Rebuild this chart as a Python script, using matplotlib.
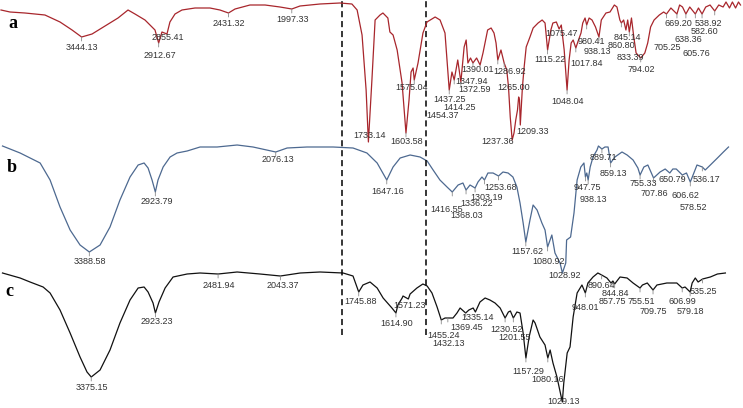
import numpy as np
import matplotlib
matplotlib.use('Agg')
import matplotlib.pyplot as plt

# ---- spectra (wavenumber cm-1, relative transmittance) ----
wn_a = [4000, 3938, 3835, 3697, 3593, 3510, 3444.13, 3372, 3283, 3193, 3124, 3076, 3007, 2959, 2938,
        2912.67, 2890, 2855.41, 2835, 2800, 2752, 2662, 2559, 2490, 2431.32, 2386, 2283, 2179, 2076,
        1997.33, 1969, 1900, 1831, 1790, 1772, 1755, 1741, 1733.14, 1721, 1710, 1693, 1683, 1666, 1659,
        1648, 1634, 1617, 1603.58, 1593, 1586, 1579, 1575.04, 1562, 1545, 1531, 1503, 1486, 1469,
        1454.37, 1445, 1437.25, 1425, 1414.25, 1403, 1396, 1390.01, 1381, 1372.59, 1360, 1347.94, 1338,
        1322, 1310, 1300, 1293, 1286.92, 1276, 1265.00, 1256, 1250, 1244, 1237.36, 1231, 1225, 1219,
        1215, 1212, 1209.33, 1202, 1196, 1189, 1176, 1165, 1148, 1134, 1124, 1115.22, 1104, 1097, 1085,
        1075.47, 1068, 1058, 1048.04, 1041, 1034, 1027, 1017.84, 1011, 1000, 994, 986, 980.41, 972, 962,
        950, 938.13, 930, 914, 900, 885, 876, 866, 860.80, 853, 845.14, 839, 833.39, 826, 818, 810,
        794.02, 780, 770, 760, 748, 730, 715, 705.25, 690, 669.20, 660, 650, 638.36, 625, 605.76, 595,
        582.60, 570, 555, 538.92, 525, 510, 500, 488, 478, 467, 457, 450]
t_a = [95, 93, 92, 90, 83, 75, 68, 71, 79, 87, 95, 91, 85, 78, 75,
       62, 73, 71, 83, 91, 95, 97, 97, 95, 92, 96, 100, 100, 98,
       96, 99, 101, 102, 101, 95, 70, 15, -37, 25, 85, 90, 92, 87, 73,
       70, 55, 22, -28, 5, 33, 37, 25, 42, 72, 83, 88, 85, 72,
       15, 33, 25, 45, 23, 58, 65, 42, 47, 42, 47, 40, 52,
       75, 77, 72, 62, 45, 55, 42, 35, 18, -12, -35, -28, -15, -5,
       8, 5, -20, 18, 38, 58, 68, 77, 82, 85, 82, 55, 75, 82, 83,
       76, 80, 55, 15, 45, 62, 65, 57, 63, 72, 82, 87, 80, 87, 85,
       78, 68, 85, 92, 93, 100, 98, 85, 82, 85, 75, 85, 73, 87, 68, 52,
       47, 52, 62, 78, 85, 90, 93, 91, 97, 91, 100, 98, 91, 98, 91, 97,
       91, 98, 100, 94, 100, 98, 103, 97, 103, 97, 103, 100]

wn_b = [4000, 3876, 3735, 3665, 3595, 3524, 3454, 3388.58, 3313, 3243, 3173, 3102, 3045, 3003, 2975,
        2947, 2923.79, 2905, 2869, 2820, 2771, 2700, 2609, 2489, 2348, 2236, 2076.13, 1998, 1928, 1836,
        1766, 1717, 1681, 1647.16, 1625, 1600, 1565, 1530, 1505, 1484, 1460, 1435, 1416.55, 1396, 1379,
        1368.03, 1354, 1336.22, 1326, 1312, 1303.19, 1291, 1273, 1253.68, 1238, 1220, 1203, 1189, 1178,
        1167, 1157.62, 1143, 1132, 1118, 1101, 1090, 1080.92, 1066, 1055, 1037, 1028.92, 1017, 1014,
        1000, 988, 977, 964, 953, 947.75, 943, 938.13, 931, 921, 907, 902, 889.71, 879, 868, 859.13,
        844, 819, 801, 780, 763, 755.33, 742, 728, 707.86, 685, 667, 650.79, 640, 628, 606.62, 592,
        578.52, 566, 555, 536.17, 526, 508, 483, 462, 444]
t_b = [99, 92, 82, 65, 38, 15, 0, -7, 0, 18, 45, 68, 80, 82, 77,
       65, 53, 65, 78, 88, 92, 94, 98, 98, 100, 98, 93, 97, 98, 98,
       97, 92, 82, 65, 78, 87, 90, 88, 84, 75, 65, 58, 53, 60, 62,
       55, 60, 57, 63, 68, 65, 72, 72, 69, 73, 72, 68, 58, 42,
       22, 3, 25, 40, 35, 22, 15, -2, 10, -8, -18, -28, -18, 5,
       8, 32, 65, 78, 82, 68, 72, 65, 78, 88, 95, 99, 96, 98, 98, 82,
       88, 93, 90, 85, 77, 70, 78, 80, 67, 73, 76, 72, 76, 76, 70, 72,
       63, 72, 80, 78, 75, 80, 87, 93, 98]

wn_c = [4000, 3876, 3806, 3714, 3665, 3595, 3524, 3454, 3405, 3375.15, 3313, 3243, 3173, 3102, 3045,
        3003, 2975, 2940, 2923.23, 2898, 2855, 2799, 2700, 2609, 2481.94, 2348, 2187, 2043.37, 1952,
        1882, 1801, 1766, 1745.88, 1731, 1706, 1681, 1660, 1629, 1614.90, 1608, 1593, 1590, 1571.23,
        1565, 1541, 1520, 1505, 1488, 1470, 1455.24, 1442, 1432.13, 1414, 1400, 1389, 1369.45, 1358,
        1343, 1335.14, 1319, 1301, 1284, 1266, 1248, 1230.52, 1219, 1212, 1201.55, 1189, 1178, 1167,
        1157.29, 1146, 1132, 1125, 1108, 1090, 1080.16, 1072, 1062, 1048, 1029.13, 1024, 1012, 1002,
        991, 977, 960, 948.01, 939, 921, 904, 890.64, 872, 857.75, 851, 844.84, 826, 801, 780, 755.51,
        747, 730, 709.75, 696, 661, 626, 606.99, 597, 579.18, 572, 561, 551, 535.25, 508, 483, 455]
t_c = [99, 94, 90, 85, 79, 62, 39, 15, 0, -5, 2, 22, 49, 72, 84,
       85, 80, 69, 59, 70, 84, 95, 98, 99, 98, 100, 98, 96, 99,
       100, 99, 96, 80, 87, 90, 84, 74, 64, 59, 67, 74, 76, 73,
       78, 84, 88, 86, 79, 65, 52, 54, 54, 54, 59, 64, 59, 62,
       64, 60, 70, 74, 72, 69, 64, 54, 60, 61, 54, 60, 59, 39,
       14, 35, 52, 49, 35, 27, 14, 22, 9, -5, -30, -11, 19, 25,
       55, 79, 87, 79, 89, 95, 99, 97, 94, 89, 91, 88, 95, 94, 89, 84,
       87, 89, 82, 87, 89, 89, 84, 85, 80, 89, 94, 90, 93, 95, 98, 99]

# labelled bands
peaks_a = [3444.13, 2912.67, 2855.41, 2431.32, 1997.33, 1733.14, 1603.58, 1575.04, 1454.37, 1437.25,
           1414.25, 1390.01, 1372.59, 1347.94, 1286.92, 1265.00, 1237.36, 1209.33, 1115.22, 1075.47,
           1048.04, 1017.84, 980.41, 938.13, 860.80, 845.14, 833.39, 794.02, 705.25, 669.20, 638.36,
           605.76, 582.60, 538.92]
peaks_b = [3388.58, 2923.79, 2076.13, 1647.16, 1416.55, 1368.03, 1336.22, 1303.19, 1253.68, 1157.62,
           1080.92, 1028.92, 947.75, 938.13, 889.71, 859.13, 755.33, 707.86, 650.79, 606.62, 578.52,
           536.17]
peaks_c = [3375.15, 2923.23, 2481.94, 2043.37, 1745.88, 1614.90, 1571.23, 1455.24, 1432.13, 1369.45,
           1335.14, 1230.52, 1201.55, 1157.29, 1080.16, 1029.13, 948.01, 890.64, 857.75, 844.84,
           755.51, 709.75, 606.99, 579.18, 535.25]

# label placement (pixel offsets of text centre from the band)
offs_a = [(0, 11), (1, 12), (1, 3), (0, 10), (1, 10), (1, -6), (1, 8), (-3, 8), (-7, 25), (-5, 19),
          (-1, 25), (10, 7), (2, 27), (-9, 16), (12, 12), (9, 24), (-15, 2), (12, 7), (2, 9), (2, 5),
          (1, 12), (11, 16), (5, 16), (-2, 15), (0, 23), (1, 7), (1, 25), (1, 11), (1, 34), (1, 9),
          (2, 26), (1, 40), (2, 18), (-6, 12)]
offs_b = [(1, 10), (1, 9), (2, 8), (1, 12), (-6, 17), (1, 26), (2, 16), (2, 17), (2, 12), (2, 9),
          (1, 14), (2, 3), (2, 11), (5, 19), (1, 8), (3, 10), (3, 9), (1, 15), (3, 6), (3, 20), (3, 25),
          (4, 12)]
offs_c = [(1, 10), (1, 9), (1, 11), (2, 9), (2, 10), (1, 10), (1, 7), (2, 15), (1, 26), (1, 14),
          (2, 6), (1, 12), (1, 20), (2, 13), (0, 22), (1, -1), (0, 15), (0, 11), (1, 18), (1, 9),
          (1, 14), (0, 21), (0, 14), (0, 19), (1, 13)]


def fwd(w):
    # FTIR axis: half scale above 2000 cm-1
    w = np.asarray(w, dtype=float)
    return np.where(w > 2000, 2000 + (w - 2000) / 2, w)


def inv(u):
    u = np.asarray(u, dtype=float)
    return np.where(u > 2000, 2000 + (u - 2000) * 2, u)


def peak_labels(axis, wn, t, base, peaks, offs):
    wn = np.asarray(wn)[::-1]
    t = np.asarray(t)[::-1]
    for w, (dx, dy) in zip(peaks, offs):
        y = np.interp(w, wn, t) + base
        if dy >= 8:
            axis.annotate('', xy=(w, y), xytext=(0, -4), textcoords='offset pixels',
                          arrowprops=dict(arrowstyle='-', color='#8a8a8a', lw=0.6,
                                          shrinkA=0, shrinkB=0))
        axis.annotate(f'{w:.2f}', xy=(w, y), xytext=(dx, -dy), textcoords='offset pixels',
                      ha='center', va='center', fontsize=6.5, color='#333333',
                      family='Liberation Sans')


fig = plt.figure(figsize=(7.43, 4.08), dpi=100)
ax = fig.add_axes([0, 0, 1, 1])
ax_a = fig.add_axes([0, 0, 1, 1])
for axis in (ax, ax_a):
    axis.set_xscale('function', functions=(fwd, inv))
    axis.set_ylim(0, 408)
    axis.axis('off')
ax.set_xlim(4017.6, 393)
ax_a.set_xlim(4006.9, 441.4)

base_a, base_b, base_c = 303, 163, 36

line_kw = dict(lw=0.9, solid_joinstyle='round')
ax_a.plot(wn_a, np.array(t_a) + base_a, color='#a8262c', **line_kw)
ax.plot(wn_b, np.array(t_b) + base_b, color='#4d6990', **line_kw)
ax.plot(wn_c, np.array(t_c) + base_c, color='#111111', **line_kw)

peak_labels(ax_a, wn_a, t_a, base_a, peaks_a, offs_a)
peak_labels(ax, wn_b, t_b, base_b, peaks_b, offs_b)
peak_labels(ax, wn_c, t_c, base_c, peaks_c, offs_c)

for w in (1805, 1510):
    ax.axvline(w, ymin=0.179, ymax=1, color='black', lw=1.1, linestyle=(0, (4, 2.5)))

for letter, (x, y) in zip(['a', 'b', 'c'], [(13, 23), (12, 168), (9, 291)]):
    fig.text(x / 743, 1 - y / 408, letter, ha='center', va='center', fontsize=13,
             fontweight='bold', family='Liberation Serif')

fig.savefig('out.png', dpi=100)
